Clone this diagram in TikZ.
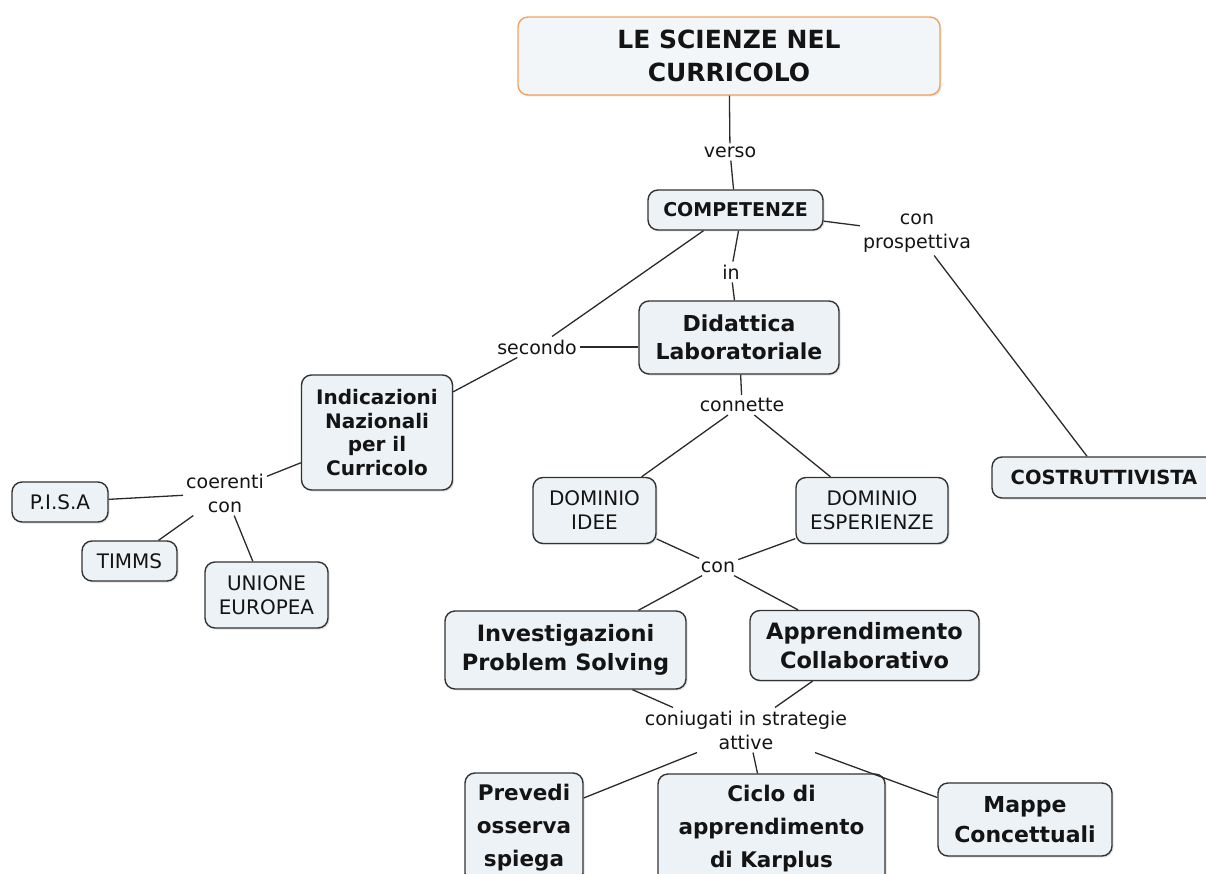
\documentclass[tikz,border=0pt]{standalone}
\usepackage{fontspec}
\setmainfont{DejaVu Sans}
\usetikzlibrary{shadows}
\definecolor{boxfill}{HTML}{EDF2F6}
\definecolor{boxline}{HTML}{333333}
\definecolor{orangeline}{HTML}{F0A35E}
\definecolor{linkline}{HTML}{2A2A2A}
\definecolor{txt}{HTML}{141414}
\newcommand{\fsz}[2]{\fontsize{#1}{#2}\selectfont}
\begin{document}
\begin{tikzpicture}[x=1pt,y=-1pt,
  box/.style={draw=boxline, fill=boxfill, rounded corners=10pt, line width=1.4pt,
    align=center, inner sep=0pt, text=txt,
    drop shadow={opacity=0.22, shadow xshift=1.5pt, shadow yshift=-1.5pt}},
  bbox/.style={box, font=\bfseries\fsz{22}{28}},
  nbox/.style={box, font=\fsz{20}{24}},
  lbl/.style={align=center, inner sep=3pt, font=\fsz{19}{24}, text=txt},
  conn/.style={draw=linkline, line width=1.3pt}]
\useasboundingbox (0,0) rectangle (1206,874);
\clip (0,0) rectangle (1206,874);

% concepts
\node[box, draw=orangeline, fill=boxfill!70!white, font=\bfseries\fsz{25}{33},
  minimum width=422pt, minimum height=78pt] (top) at (729,56) {LE SCIENZE NEL\\CURRICOLO};
\node[box, font=\bfseries\fsz{19}{24}, minimum width=175pt, minimum height=40pt] (comp) at (735.5,210) {COMPETENZE};
\node[bbox, minimum width=200pt, minimum height=73pt] (did) at (739,337.5) {Didattica\\Laboratoriale};
\node[box, font=\bfseries\fsz{20}{23.5}, minimum width=151pt, minimum height=115pt] (indic) at (377,432.5) {Indicazioni\\Nazionali\\per il\\Curricolo};
\node[box, font=\bfseries\fsz{19.5}{24}, minimum width=224pt, minimum height=41pt] (costr) at (1104,477.5) {COSTRUTTIVISTA};
\node[nbox, minimum width=96pt, minimum height=40pt] (pisa) at (60,502) {P.I.S.A};
\node[nbox, minimum width=95pt, minimum height=40pt] (timms) at (129.5,561) {TIMMS};
\node[nbox, minimum width=123pt, minimum height=66pt] (unione) at (266.5,595) {UNIONE\\EUROPEA};
\node[nbox, minimum width=123pt, minimum height=66pt] (domidee) at (594.5,510.5) {DOMINIO\\IDEE};
\node[nbox, minimum width=152pt, minimum height=66pt] (domesp) at (872,510.5) {DOMINIO\\ESPERIENZE};
\node[box, font=\bfseries\fsz{22.5}{29}, minimum width=241pt, minimum height=78pt] (invest) at (565.5,650) {Investigazioni\\Problem Solving};
\node[box, font=\bfseries\fsz{22.5}{29}, minimum width=229pt, minimum height=70pt] (appr) at (864.5,645.5) {Apprendimento\\Collaborativo};
\node[box, font=\bfseries\fsz{21.5}{33}, minimum width=118pt, minimum height=110pt] (prevedi) at (524,828) {Prevedi\\osserva\\spiega};
\node[box, font=\bfseries\fsz{21.5}{33}, minimum width=227pt, minimum height=110pt] (ciclo) at (771.5,829) {Ciclo di\\apprendimento\\di Karplus};
\node[box, font=\bfseries\fsz{22}{30}, minimum width=174pt, minimum height=73pt] (mappe) at (1025,819.5) {Mappe\\Concettuali};

% linking phrases
\node[lbl] (verso) at (730,152) {verso};
\node[lbl] (in) at (731,272) {in};
\node[lbl] (conprosp) at (917,233) {con\\prospettiva};
\node[lbl] (secondo) at (537,347) {secondo};
\node[lbl] (connette) at (742,405) {connette};
\node[lbl] (coerenti) at (225,493) {coerenti\\con};
\node[lbl] (con) at (718,567) {con};
\node[lbl] (coniugati) at (746,730) {coniugati in strategie\\attive};

% connectors
\draw[conn] (top) -- (verso);
\draw[conn] (verso) -- (comp);
\draw[conn] (comp) -- (conprosp);
\draw[conn] (conprosp) -- ([xshift=-17pt]costr.north);
\draw[conn] ([xshift=3pt]comp.south) -- (in);
\draw[conn] (in) -- (did);
\draw[conn] ([xshift=-32pt]comp.south) -- (secondo);
\draw[conn] (secondo) -- (indic);
\draw[conn] (secondo.east) -- (did.west |- secondo.east);
\draw[conn] (did) -- (connette);
\draw[conn] (connette) -- (domidee);
\draw[conn] (connette) -- (domesp);
\draw[conn] (indic) -- (coerenti);
\draw[conn] (coerenti) -- (pisa);
\draw[conn] (coerenti) -- (timms);
\draw[conn] (coerenti) -- (unione);
\draw[conn] (domidee) -- (con);
\draw[conn] (domesp) -- (con);
\draw[conn] (con) -- (invest);
\draw[conn] (con) -- (appr);
\draw[conn] ([xshift=67pt]invest.south) -- ([xshift=-73pt]coniugati.north);
\draw[conn] ([xshift=-52pt]appr.south) -- ([xshift=29pt]coniugati.north);
\draw[conn] ([xshift=-49pt]coniugati.south) -- ([yshift=30pt]prevedi.east);
\draw[conn] ([xshift=7pt]coniugati.south) -- ([xshift=-14pt]ciclo.north);
\draw[conn] ([xshift=69pt]coniugati.south) -- ([yshift=22pt]mappe.west);
\end{tikzpicture}
\end{document}
